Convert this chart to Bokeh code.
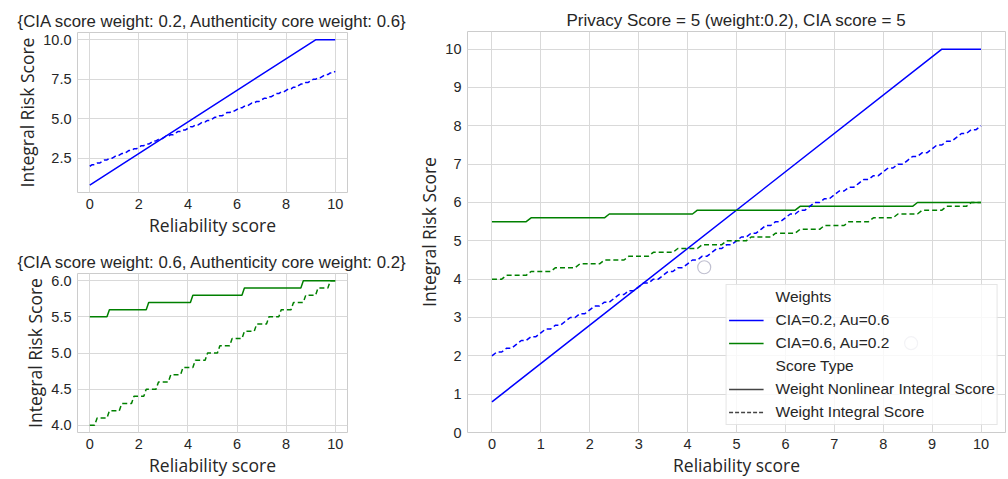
from bokeh.plotting import figure
from bokeh.layouts import row, column
from bokeh.models import Range1d, FixedTicker, Legend, LegendItem, NumeralTickFormatter, ColumnDataSource
from bokeh.embed import file_html
from bokeh.resources import INLINE

# ---------------- data ----------------
x_grid = [round(i * 0.1, 1) for i in range(101)]

# Weight Integral Score, CIA=0.2, Au=0.6 (blue dashed)
blue_dashed = [2.0, 2.1, 2.1, 2.2, 2.2, 2.3, 2.4, 2.4, 2.5, 2.5,
               2.6, 2.7, 2.7, 2.8, 2.8, 2.9, 3.0, 3.0, 3.1, 3.1,
               3.2, 3.3, 3.3, 3.4, 3.4, 3.5, 3.6, 3.6, 3.7, 3.7,
               3.8, 3.9, 3.9, 4.0, 4.0, 4.1, 4.2, 4.2, 4.3, 4.3,
               4.4, 4.5, 4.5, 4.6, 4.6, 4.7, 4.8, 4.8, 4.9, 4.9,
               5.0, 5.1, 5.1, 5.2, 5.2, 5.3, 5.4, 5.4, 5.5, 5.5,
               5.6, 5.7, 5.7, 5.8, 5.8, 5.9, 6.0, 6.0, 6.1, 6.1,
               6.2, 6.3, 6.3, 6.4, 6.4, 6.5, 6.6, 6.6, 6.7, 6.7,
               6.8, 6.9, 6.9, 7.0, 7.0, 7.1, 7.2, 7.2, 7.3, 7.3,
               7.4, 7.5, 7.5, 7.6, 7.6, 7.7, 7.8, 7.8, 7.9, 7.9,
               8.0]

# Weight Integral Score, CIA=0.6, Au=0.2 (green dashed)
green_dashed = [4.0, 4.0, 4.0, 4.1, 4.1, 4.1, 4.1, 4.1, 4.2, 4.2,
                4.2, 4.2, 4.2, 4.3, 4.3, 4.3, 4.3, 4.3, 4.4, 4.4,
                4.4, 4.4, 4.4, 4.5, 4.5, 4.5, 4.5, 4.5, 4.6, 4.6,
                4.6, 4.6, 4.6, 4.7, 4.7, 4.7, 4.7, 4.7, 4.8, 4.8,
                4.8, 4.8, 4.8, 4.9, 4.9, 4.9, 4.9, 4.9, 5.0, 5.0,
                5.0, 5.0, 5.0, 5.1, 5.1, 5.1, 5.1, 5.1, 5.2, 5.2,
                5.2, 5.2, 5.2, 5.3, 5.3, 5.3, 5.3, 5.3, 5.4, 5.4,
                5.4, 5.4, 5.4, 5.5, 5.5, 5.5, 5.5, 5.5, 5.6, 5.6,
                5.6, 5.6, 5.6, 5.7, 5.7, 5.7, 5.7, 5.7, 5.8, 5.8,
                5.8, 5.8, 5.8, 5.9, 5.9, 5.9, 5.9, 5.9, 6.0, 6.0,
                6.0]

# Weight Nonlinear Integral Score, CIA=0.2, Au=0.6 (blue solid) - vertices
blue_solid_x = [0.0, 9.2, 10.0]
blue_solid_y = [0.8, 10.0, 10.0]

# Weight Nonlinear Integral Score, CIA=0.6, Au=0.2 (green solid) - vertices
green_solid_x = [0.0, 0.7, 0.8, 2.3, 2.4, 4.1, 4.2, 6.2, 6.3, 8.6, 8.7, 10.0]
green_solid_y = [5.5, 5.5, 5.6, 5.6, 5.7, 5.7, 5.8, 5.8, 5.9, 5.9, 6.0, 6.0]

# stray hollow circles visible in the right panel
marks_x = [4.34, 8.57]
marks_y = [4.31, 2.33]

title_tl = "{CIA score weight: 0.2, Authenticity core weight: 0.6}"
title_bl = "{CIA score weight: 0.6, Authenticity core weight: 0.2}"
title_r = "Privacy Score = 5 (weight:0.2), CIA score = 5"
xlabel = "Reliability score"
ylabel = "Integral Risk Score"
legend_labels = ["Weights", "CIA=0.2, Au=0.6", "CIA=0.6, Au=0.2",
                 "Score Type", "Weight Nonlinear Integral Score", "Weight Integral Score"]

BLUE = "#0000ff"
GREEN = "#008000"
TXT = "#262626"
GRID = "#d9d9d9"
TICK_FONT = "Liberation Sans"
LABEL_FONT = "Open Sans"
DASH = "5 3"
LW = 1.5


def style(p, yticks, fmt=None, title_size="17px"):
    p.outline_line_color = "#cccccc"
    p.outline_line_width = 1
    p.title.text_font = TICK_FONT
    p.title.text_font_size = title_size
    p.title.text_font_style = "normal"
    p.title.text_color = TXT
    p.title.align = "center"
    p.title.standoff = 3
    for ax in (p.xaxis, p.yaxis):
        ax.axis_line_color = None
        ax.major_tick_line_color = None
        ax.minor_tick_line_color = None
        ax.major_tick_out = 0
        ax.major_tick_in = 0
        ax.major_label_text_font = TICK_FONT
        ax.major_label_text_font_size = "14.5px"
        ax.major_label_text_color = TXT
        ax.axis_label_text_font = LABEL_FONT
        ax.axis_label_text_font_size = "17.5px"
        ax.axis_label_text_font_style = "normal"
        ax.axis_label_text_color = TXT
        ax.major_label_standoff = 6
        ax.axis_label_standoff = 1
    p.yaxis.ticker = FixedTicker(ticks=yticks)
    if fmt:
        p.yaxis.formatter = NumeralTickFormatter(format=fmt)
    p.xgrid.grid_line_color = GRID
    p.ygrid.grid_line_color = GRID
    p.xaxis.axis_label = xlabel
    p.yaxis.axis_label = ylabel


# ---------------- top-left ----------------
p1 = figure(width=412, height=240, output_backend="svg", toolbar_location=None,
            x_range=Range1d(-0.5, 10.5), y_range=Range1d(0.34, 10.46),
            title=title_tl, min_border_left=77, min_border_right=65,
            min_border_top=32, min_border_bottom=48)
style(p1, [2.5, 5.0, 7.5, 10.0], "0.0", "16.8px")
p1.xaxis.ticker = FixedTicker(ticks=[0, 2, 4, 6, 8, 10])
p1.line(blue_solid_x, blue_solid_y, line_color=BLUE, line_width=LW)
p1.line(x_grid, blue_dashed, line_color=BLUE, line_width=LW, line_dash=DASH)

# ---------------- bottom-left ----------------
p2 = figure(width=412, height=239, output_backend="svg", toolbar_location=None,
            x_range=Range1d(-0.5, 10.5), y_range=Range1d(3.9, 6.1),
            title=title_bl, min_border_left=77, min_border_right=65,
            min_border_top=33, min_border_bottom=45)
style(p2, [4.0, 4.5, 5.0, 5.5, 6.0], "0.0", "16.8px")
p2.xaxis.ticker = FixedTicker(ticks=[0, 2, 4, 6, 8, 10])
p2.line(green_solid_x, green_solid_y, line_color=GREEN, line_width=LW)
p2.line(x_grid, green_dashed, line_color=GREEN, line_width=LW, line_dash=DASH)

# ---------------- right ----------------
p3 = figure(width=596, height=479, output_backend="svg", toolbar_location=None,
            x_range=Range1d(-0.5, 10.5), y_range=Range1d(0, 10.46),
            title=title_r, min_border_left=55, min_border_right=3,
            min_border_top=31, min_border_bottom=45)
style(p3, list(range(0, 11)))
p3.xaxis.ticker = FixedTicker(ticks=list(range(0, 11)))
r_bs = p3.line(blue_solid_x, blue_solid_y, line_color=BLUE, line_width=LW)
r_gs = p3.line(green_solid_x, green_solid_y, line_color=GREEN, line_width=LW)
p3.line(x_grid, blue_dashed, line_color=BLUE, line_width=LW, line_dash=DASH)
p3.line(x_grid, green_dashed, line_color=GREEN, line_width=LW, line_dash=DASH)
p3.scatter(marks_x, marks_y, marker="circle", size=13, fill_color=None,
           line_color="#c0c0d0", line_width=1.2)

nan_src = ColumnDataSource(dict(x=[float("nan")], y=[float("nan")]))
r_hidden = p3.line("x", "y", source=nan_src, line_alpha=0)
r_solid = p3.line("x", "y", source=nan_src, line_color="#444444", line_width=LW)
r_dash = p3.line("x", "y", source=nan_src, line_color="#444444", line_width=LW, line_dash="4 2")

items = [
    LegendItem(label=legend_labels[0], renderers=[r_hidden]),
    LegendItem(label=legend_labels[1], renderers=[r_bs]),
    LegendItem(label=legend_labels[2], renderers=[r_gs]),
    LegendItem(label=legend_labels[3], renderers=[r_hidden]),
    LegendItem(label=legend_labels[4], renderers=[r_solid]),
    LegendItem(label=legend_labels[5], renderers=[r_dash]),
]
legend = Legend(items=items, location="bottom_right")
legend.label_text_font = TICK_FONT
legend.label_text_font_size = "15.5px"
legend.label_text_color = TXT
legend.glyph_width = 35
legend.glyph_height = 20
legend.label_height = 20
legend.spacing = 3
legend.padding = 2
legend.margin = 7
legend.label_standoff = 12
legend.border_line_color = "#cccccc"
legend.background_fill_alpha = 0.8
p3.add_layout(legend, "center")

layout = row(column(p1, p2), p3)
open("out.html", "w").write(file_html(layout, INLINE))
